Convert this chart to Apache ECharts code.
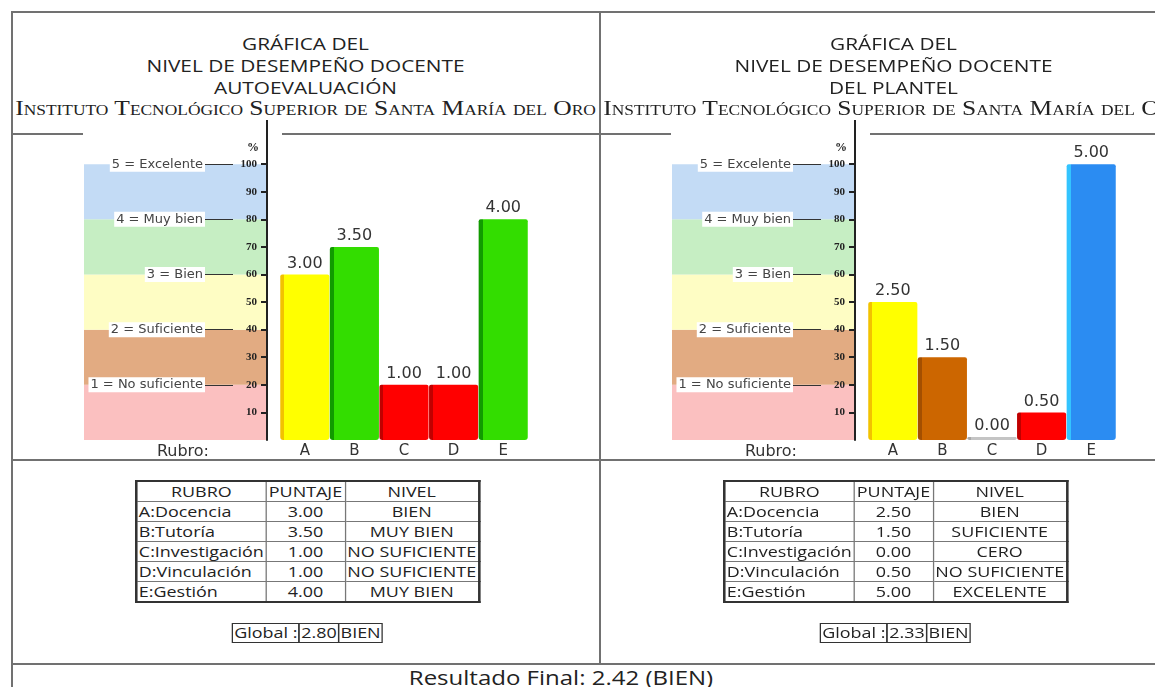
<!DOCTYPE html>
<html lang="es">
<head>
  <meta charset="utf-8">
  <title>Gráfica del nivel de desempeño docente</title>
  <script src="https://cdn.jsdelivr.net/npm/echarts@6/dist/echarts.min.js"></script>
  <style>
    * { margin: 0; padding: 0; }
    body {
      position: relative;
      width: 1155px;
      height: 687px;
      overflow: hidden;
      background: #fff;
      color: #222;
      font-family: 'Open Sans', sans-serif;
    }
    .rule { position: absolute; background: #717171; }
    .panel { position: absolute; top: 11px; width: 589px; height: 653px; }
    .title {
      position: absolute;
      left: 0;
      width: 589px;
      height: 22px;
      line-height: 22px;
      font-size: 16px;
      text-align: center;
      white-space: nowrap;
      transform: scaleX(1.3);
    }
    .inst {
      font-family: 'Liberation Serif', serif;
      font-variant: small-caps;
      font-size: 22px;
      transform: scaleX(1.16);
    }
    .chart { position: absolute; left: 0; top: 109px; width: 589px; height: 340px; }
    table.scores {
      position: absolute;
      top: 469px;
      table-layout: fixed;
      border-collapse: collapse;
      border: 2px solid #333;
      font-size: 14px;
      transform-origin: 0 0;
      transform: scaleX(1.28);
    }
    table.scores td {
      height: 19px;
      line-height: 19px;
      border: 1px solid #777;
      padding: 0 1px;
      text-align: center;
      white-space: nowrap;
      overflow: hidden;
    }
    table.scores td.name { text-align: left; }
    .global {
      position: absolute;
      top: 612px;
      left: 222px;
      display: flex;
      font-size: 14px;
      transform-origin: 0 0;
      transform: scaleX(1.28);
    }
    .global span {
      display: block;
      height: 18px;
      line-height: 18px;
      border: 1px solid #333;
      margin-left: -1px;
      padding: 0 1px;
      white-space: nowrap;
    }
    #final {
      position: absolute;
      left: 0;
      width: 1122px;
      top: 665px;
      font-size: 20px;
      line-height: 26px;
      text-align: center;
      white-space: nowrap;
      transform: scaleX(1.2);
    }
  </style>
</head>
<body>
  <div class="rule" style="left:11px; top:11px; width:1144px; height:2px;"></div>
  <div class="rule" style="left:11px; top:11px; width:2px; height:676px;"></div>
  <div class="rule" style="left:599px; top:11px; width:2px; height:653px;"></div>
  <div class="rule" style="left:11px; top:459px; width:1144px; height:2px;"></div>
  <div class="rule" style="left:11px; top:663px; width:1144px; height:2px;"></div>

  <div class="panel" id="panel-auto" style="left:11px;"></div>
  <div class="panel" id="panel-plantel" style="left:599px;"></div>
  <div id="final"></div>

  <script>
    // rubros y resultados
    var categories = ['A', 'B', 'C', 'D', 'E'];
    var rubros = ['A:Docencia', 'B:Tutoría', 'C:Investigación', 'D:Vinculación', 'E:Gestión'];

    var autoScores = [3.00, 3.50, 1.00, 1.00, 4.00];
    var autoLevels = ['BIEN', 'MUY BIEN', 'NO SUFICIENTE', 'NO SUFICIENTE', 'MUY BIEN'];
    var autoGlobal = [2.80, 'BIEN'];

    var plantelScores = [2.50, 1.50, 0.00, 0.50, 5.00];
    var plantelLevels = ['BIEN', 'SUFICIENTE', 'CERO', 'NO SUFICIENTE', 'EXCELENTE'];
    var plantelGlobal = [2.33, 'BIEN'];

    var finalResult = [2.42, 'BIEN'];

    // escala de niveles (porcentaje)
    var bandNames = ['1 = No suficiente', '2 = Suficiente', '3 = Bien', '4 = Muy bien', '5 = Excelente'];
    var bandTops = [20, 40, 60, 80, 100];
    var yTicks = [10, 20, 30, 40, 50, 60, 70, 80, 90, 100];

    var bandColors = ['#fbc0c0', '#e2ab82', '#fefdc4', '#c6eec3', '#c3dbf5'];
    // [cara, borde izquierdo]
    var levelColors = {
      'CERO': ['#c4c4c4', '#a8a8a8'],
      'NO SUFICIENTE': ['#ff0000', '#c00000'],
      'SUFICIENTE': ['#cc6600', '#a44f00'],
      'BIEN': ['#ffff00', '#f2c200'],
      'MUY BIEN': ['#33dd00', '#119a00'],
      'EXCELENTE': ['#2b8cf2', '#33c4ff']
    };

    function barFill(c) {
      return new echarts.graphic.LinearGradient(0, 0, 1, 0, [
        { offset: 0, color: c[1] },
        { offset: 0.08, color: c[1] },
        { offset: 0.08, color: c[0] },
        { offset: 1, color: c[0] }
      ]);
    }

    function buildOption(scores, levels) {
      return {
        animation: false,
        textStyle: { fontFamily: 'DejaVu Sans' },
        grid: [
          { left: 269, width: 248, top: 0, bottom: 20 },
          { left: 73, width: 183, top: 0, bottom: 20 },
          { left: 194, width: 28, top: 0, bottom: 20 }
        ],
        xAxis: [
          {
            gridIndex: 0,
            type: 'category',
            data: categories,
            axisLine: { show: false },
            axisTick: { show: false },
            axisLabel: { color: '#333', fontSize: 15, margin: 4 },
            name: 'Rubro:',
            nameLocation: 'start',
            nameGap: 71,
            nameTextStyle: { color: '#333', fontSize: 16, verticalAlign: 'top', padding: [4, 0, 0, 0] }
          },
          { gridIndex: 1, type: 'value', min: 0, max: 1, show: false },
          { gridIndex: 2, type: 'value', min: 0, max: 1, show: false }
        ],
        yAxis: [
          {
            gridIndex: 0,
            type: 'value',
            z: 10,
            min: 0,
            max: 116,
            interval: 10,
            offset: 13,
            name: '%',
            nameLocation: 'end',
            nameGap: -28,
            nameTextStyle: {
              fontFamily: 'Liberation Serif', fontWeight: 'bold', fontSize: 12, color: '#222',
              align: 'right', verticalAlign: 'middle', padding: [0, 8, 0, 0]
            },
            splitLine: { show: false },
            axisLine: { show: true, lineStyle: { color: '#222', width: 2 } },
            axisTick: { show: true, length: 6, customValues: yTicks, lineStyle: { color: '#222', width: 2 } },
            axisLabel: {
              customValues: yTicks,
              fontFamily: 'Liberation Serif', fontWeight: 'bold', fontSize: 11, color: '#222', margin: 10
            }
          },
          { gridIndex: 1, type: 'value', min: 0, max: 116, show: false },
          { gridIndex: 2, type: 'value', min: 0, max: 116, show: false }
        ],
        series: [
          {
            type: 'line',
            xAxisIndex: 1,
            yAxisIndex: 1,
            data: [],
            silent: true,
            markArea: {
              silent: true,
              data: bandTops.map(function (top, i) {
                return [
                  { yAxis: i === 0 ? 0 : bandTops[i - 1], itemStyle: { color: bandColors[i] } },
                  { yAxis: top }
                ];
              })
            }
          },
          {
            type: 'line',
            xAxisIndex: 2,
            yAxisIndex: 2,
            data: [],
            silent: true,
            markLine: {
              silent: true,
              symbol: 'none',
              lineStyle: { color: '#333', width: 1, type: 'solid' },
              label: {
                position: 'start',
                formatter: '{b}',
                color: '#444',
                fontSize: 13,
                backgroundColor: '#fff',
                padding: [1, 2],
                distance: 0
              },
              data: bandTops.map(function (top, i) {
                return { yAxis: top, name: bandNames[i] };
              })
            }
          },
          {
            type: 'bar',
            xAxisIndex: 0,
            yAxisIndex: 0,
            barCategoryGap: '1%',
            barMinHeight: 3,
            data: scores.map(function (s, i) {
              return {
                value: s * 20,
                score: s,
                itemStyle: { color: barFill(levelColors[levels[i]]), borderRadius: [2, 2, 3, 3] }
              };
            }),
            label: {
              show: true,
              position: 'top',
              distance: 3,
              color: '#333',
              fontSize: 16,
              formatter: function (p) { return p.data.score.toFixed(2); }
            }
          }
        ]
      };
    }

    function buildPanel(id, subtitle, scores, levels, global) {
      var panel = document.getElementById(id);
      var lines = ['GRÁFICA DEL', 'NIVEL DE DESEMPEÑO DOCENTE', subtitle];
      var html = '';
      lines.forEach(function (t, i) {
        html += '<div class="title" style="top:' + (22 + i * 22) + 'px;">' + t + '</div>';
      });
      html += '<div class="title inst" style="top:86px;">Instituto Tecnológico Superior de Santa María del Oro</div>';
      html += '<div class="rule" style="left:0; top:122px; width:72px; height:2px;"></div>';
      html += '<div class="rule" style="left:271px; top:122px; width:318px; height:2px;"></div>';
      html += '<div class="chart"></div>';

      var rows = '<tr><td style="width:97px;">RUBRO</td><td style="width:59px;">PUNTAJE</td><td style="width:101px;">NIVEL</td></tr>';
      rubros.forEach(function (r, i) {
        rows += '<tr><td class="name">' + r + '</td><td>' + scores[i].toFixed(2) + '</td><td>' + levels[i] + '</td></tr>';
      });
      html += '<table class="scores" style="left:124px;">' + rows + '</table>';
      html += '<div class="global"><span>Global :</span><span>' + global[0].toFixed(2) + '</span><span>' + global[1] + '</span></div>';
      panel.innerHTML = html;

      var chart = echarts.init(panel.querySelector('.chart'), null, { renderer: 'canvas' });
      chart.setOption(buildOption(scores, levels));
      return chart;
    }

    var chartAuto = buildPanel('panel-auto', 'AUTOEVALUACIÓN', autoScores, autoLevels, autoGlobal);
    var chartPlantel = buildPanel('panel-plantel', 'DEL PLANTEL', plantelScores, plantelLevels, plantelGlobal);

    document.getElementById('final').textContent =
      'Resultado Final: ' + finalResult[0].toFixed(2) + ' (' + finalResult[1] + ')';

    window.addEventListener('resize', function () {
      chartAuto.resize();
      chartPlantel.resize();
    });
  </script>
</body>
</html>
